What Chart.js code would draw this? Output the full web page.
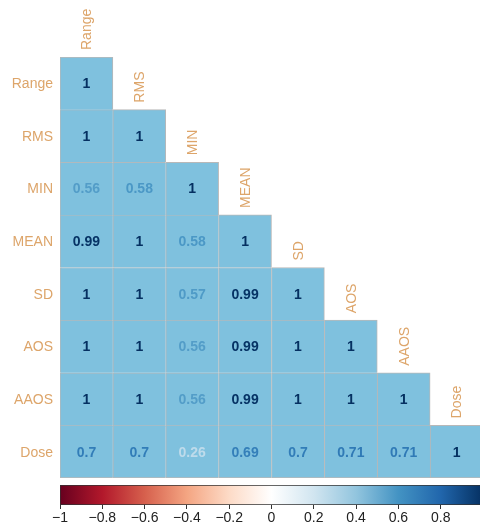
<!DOCTYPE html>
<html>
<head>
<meta charset="utf-8">
<script src="https://cdn.jsdelivr.net/npm/chart.js@4"></script>
<style>
  html, body { margin: 0; padding: 0; background: #fff; overflow: hidden; }
  #wrap { position: relative; width: 480px; height: 527px; }
  #corr { position: absolute; left: 0; top: 0; }
  #bar { position: absolute; left: 0; top: 480px; }
</style>
</head>
<body>
<div id="wrap">
  <canvas id="corr" width="483" height="482"></canvas>
  <canvas id="bar" width="483" height="47"></canvas>
</div>
<script>
const vars = ["Range", "RMS", "MIN", "MEAN", "SD", "AOS", "AAOS", "Dose"]

// lower triangle, row by row
const rRange = [1]
const rRMS   = [1, 1]
const rMIN   = [0.56, 0.58, 1]
const rMEAN  = [0.99, 1, 0.58, 1]
const rSD    = [1, 1, 0.57, 0.99, 1]
const rAOS   = [1, 1, 0.56, 0.99, 1, 1]
const rAAOS  = [1, 1, 0.56, 0.99, 1, 1, 1]
const rDose  = [0.7, 0.7, 0.26, 0.69, 0.7, 0.71, 0.71, 1]
const rows = [rRange, rRMS, rMIN, rMEAN, rSD, rAOS, rAAOS, rDose]

// RdBu palette, -1 .. 1 in steps of 0.2
const palette = ["#67001F", "#B2182B", "#D6604D", "#F4A582", "#FDDBC7", "#FFFFFF",
                 "#D1E5F0", "#92C5DE", "#4393C3", "#2166AC", "#053061"]
const cbTicks = [-1, -0.8, -0.6, -0.4, -0.2, 0, 0.2, 0.4, 0.6, 0.8]

const labelCol = "#DDA56A"
const cellFill = "#7FC1DE"
const gridCol = "#B8B8B8"
const fontFam = "'Liberation Sans', Arial, sans-serif"

function hex(c) {
    return [parseInt(c.slice(1, 3), 16), parseInt(c.slice(3, 5), 16), parseInt(c.slice(5, 7), 16)]
}
function colorFor(v) {
    let t = (v + 1) / 0.2
    let i = Math.min(Math.floor(t), palette.length - 2)
    let f = t - i
    let a = hex(palette[i]), b = hex(palette[i + 1])
    let c = a.map((x, k) => Math.round(x + (b[k] - x) * f))
    return "rgb(" + c.join(",") + ")"
}

// one dataset per row, floating bars [row, row+1]
const datasets = rows.map(function(r, i) {
    return {
        data: vars.map((v, j) => j < r.length ? [i, i + 1] : null),
        backgroundColor: cellFill,
        borderColor: gridCol,
        borderWidth: function(ctx) {
            let j = ctx.dataIndex
            return { top: 1, left: 1, right: j == i ? 1 : 0, bottom: i == rows.length - 1 ? 1 : 0 }
        },
        borderSkipped: false,
        grouped: false,
        barPercentage: 1,
        categoryPercentage: 1
    }
})

const labelsPlugin = {
    id: "corrLabels",
    afterDatasetsDraw(chart) {
        const c = chart.ctx
        const area = chart.chartArea
        const x = chart.scales.x, y = chart.scales.y
        c.save()
        // numbers in the cells
        c.font = "bold 14px " + fontFam
        c.textAlign = "center"
        c.textBaseline = "middle"
        rows.forEach(function(r, i) {
            const meta = chart.getDatasetMeta(i)
            r.forEach(function(v, j) {
                const el = meta.data[j]
                c.fillStyle = colorFor(v)
                c.fillText(String(v), el.x, (el.y + el.base) / 2 + 1)
            })
        })
        // row names
        c.font = "14px " + fontFam
        c.fillStyle = labelCol
        c.textAlign = "right"
        vars.forEach(function(v, i) {
            c.fillText(v, area.left - 7, y.getPixelForValue(i + 0.5) + 1)
        })
        // column names, rotated above the diagonal
        c.textAlign = "left"
        vars.forEach(function(v, j) {
            c.save()
            c.translate(x.getPixelForValue(j) + 1, y.getPixelForValue(j) - 7)
            c.rotate(-Math.PI / 2)
            c.fillText(v, 0, 0)
            c.restore()
        })
        c.restore()
    }
}

new Chart(document.getElementById("corr"), {
    type: "bar",
    data: { labels: vars, datasets: datasets },
    options: {
        responsive: false,
        animation: false,
        layout: { padding: { left: 60, top: 57, right: 0, bottom: 4 } },
        plugins: { legend: { display: false }, tooltip: { enabled: false } },
        scales: {
            x: { display: false },
            y: { display: false, min: 0, max: 8, reverse: true }
        }
    },
    plugins: [labelsPlugin]
})

// colour legend
new Chart(document.getElementById("bar"), {
    type: "bar",
    data: {
        labels: ["cb"],
        datasets: [{
            data: [[-1, 1]],
            backgroundColor: function(ctx) {
                const ch = ctx.chart
                if (!ch.chartArea) return palette[5]
                const xs = ch.scales.x
                const g = ch.ctx.createLinearGradient(xs.getPixelForValue(-1), 0, xs.getPixelForValue(1), 0)
                palette.forEach((p, k) => g.addColorStop(k / (palette.length - 1), p))
                return g
            },
            borderColor: "#333333",
            borderWidth: 1,
            borderSkipped: false,
            barPercentage: 1,
            categoryPercentage: 1
        }]
    },
    options: {
        indexAxis: "y",
        responsive: false,
        animation: false,
        layout: { padding: { left: 60, top: 5, right: 0, bottom: 2 } },
        plugins: { legend: { display: false }, tooltip: { enabled: false } },
        scales: {
            y: { display: false },
            x: {
                min: -1,
                max: 1,
                afterBuildTicks: function(axis) {
                    axis.ticks = cbTicks.map(v => ({ value: v }))
                },
                border: { display: false },
                grid: { drawOnChartArea: false, tickLength: 4, color: "#333333" },
                ticks: {
                    padding: 1,
                    color: "#222222",
                    font: { size: 14, family: fontFam },
                    maxRotation: 0,
                    callback: function(v) {
                        return String(Math.round(v * 10) / 10).replace("-", "\u2212")
                    }
                }
            }
        }
    }
})
</script>
</body>
</html>
